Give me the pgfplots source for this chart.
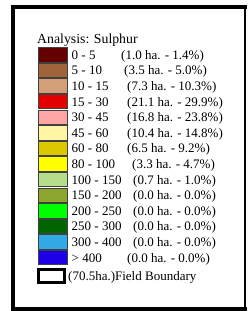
\documentclass[border=0pt]{standalone}
\usepackage{pgfplots}
\pgfplotsset{compat=1.18}
\usepackage{fontspec}
\setmainfont{Liberation Serif}
\definecolor{s1}{RGB}{100,0,0}
\definecolor{s2}{RGB}{160,100,60}
\definecolor{s3}{RGB}{210,160,120}
\definecolor{s4}{RGB}{224,0,0}
\definecolor{s5}{RGB}{255,165,165}
\definecolor{s6}{RGB}{255,245,165}
\definecolor{s7}{RGB}{220,200,0}
\definecolor{s8}{RGB}{255,255,0}
\definecolor{s9}{RGB}{180,222,140}
\definecolor{s10}{RGB}{140,165,45}
\definecolor{s11}{RGB}{0,255,0}
\definecolor{s12}{RGB}{0,100,0}
\definecolor{s13}{RGB}{50,170,230}
\definecolor{s14}{RGB}{30,0,230}
\tikzset{lt/.style={anchor=base west, inner sep=0pt, font=\fontsize{13}{15}\selectfont}}
\newcommand{\swatch}[7]{%
  \addplot[fill=#1, draw=black!75, line width=0.8pt] coordinates {(38.5,#2) (67,#2) (67,#3) (38.5,#3)} -- cycle;
  \node[lt] at (axis cs:71.5,#4) {#5};
  \node[lt] at (axis cs:#6,#4) {#7};
}
\begin{document}
\begin{tikzpicture}
\useasboundingbox (0,0) rectangle (249pt,311pt);
\begin{axis}[at={(0,0)}, anchor=south west, scale only axis,
  width=249pt, height=311pt, xmin=0, xmax=249, ymin=0, ymax=311,
  y dir=reverse, hide axis, clip=false]
% frame
\draw[line width=4.5pt] (axis cs:13.2,5) -- (axis cs:13.2,311);
\draw[line width=4pt] (axis cs:11,7) -- (axis cs:247,7);
\draw[line width=4pt] (axis cs:11,309) -- (axis cs:247,309);
\draw[line width=2pt] (axis cs:245,5) -- (axis cs:245,311);
% title
\node[lt, font=\fontsize{13.8}{16}\selectfont] at (axis cs:37,43.5) {Analysis: Sulphur};
% rows
\swatch{s1}{47.6}{62.0}{59.2}{0 - 5}{121}{(1.0 ha. - 1.4\%)}
\swatch{s2}{63.2}{77.6}{74.8}{5 - 10}{124}{(3.5 ha. - 5.0\%)}
\swatch{s3}{78.8}{93.2}{90.4}{10 - 15}{127}{(7.3 ha. - 10.3\%)}
\swatch{s4}{94.4}{108.8}{106.0}{15 - 30}{127}{(21.1 ha. - 29.9\%)}
\swatch{s5}{110.0}{124.4}{121.6}{30 - 45}{127}{(16.8 ha. - 23.8\%)}
\swatch{s6}{125.6}{140.0}{137.2}{45 - 60}{127}{(10.4 ha. - 14.8\%)}
\swatch{s7}{141.2}{155.6}{152.8}{60 - 80}{127}{(6.5 ha. - 9.2\%)}
\swatch{s8}{156.8}{171.2}{168.4}{80 - 100}{132}{(3.3 ha. - 4.7\%)}
\swatch{s9}{172.4}{186.8}{184.0}{100 - 150}{133}{(0.7 ha. - 1.0\%)}
\swatch{s10}{188.0}{202.4}{199.6}{150 - 200}{133}{(0.0 ha. - 0.0\%)}
\swatch{s11}{203.6}{218.0}{215.2}{200 - 250}{133}{(0.0 ha. - 0.0\%)}
\swatch{s12}{219.2}{233.6}{230.8}{250 - 300}{133}{(0.0 ha. - 0.0\%)}
\swatch{s13}{234.8}{249.2}{246.4}{300 - 400}{133}{(0.0 ha. - 0.0\%)}
\swatch{s14}{250.4}{264.8}{262.0}{> 400}{127}{(0.0 ha. - 0.0\%)}
% field boundary
\addplot[fill=white, draw=black, line width=3pt] coordinates {(38.5,269.5) (64.5,269.5) (64.5,282.5) (38.5,282.5)} -- cycle;
\node[lt] at (axis cs:68,280.4) {(70.5ha.)Field Boundary};
\end{axis}
\end{tikzpicture}
\end{document}
